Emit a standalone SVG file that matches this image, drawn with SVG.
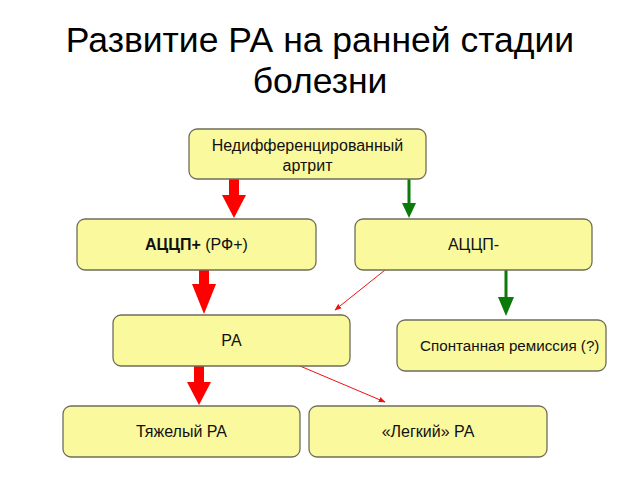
<svg xmlns="http://www.w3.org/2000/svg" width="640" height="480" viewBox="0 0 640 480">
<style>
.t{font-family:"Liberation Sans",Arial,sans-serif;font-size:35.5px;fill:#000;text-anchor:middle}
.b{fill:#FAF99E;stroke:#6E6E5A;stroke-width:1.3}
.l{font-family:"Liberation Sans",Arial,sans-serif;font-size:16px;fill:#111;text-anchor:middle}
.red{fill:#FF0000}
.grn{fill:#0A7A0A}
.thin{stroke:#F01010;stroke-width:1;fill:none;marker-end:url(#ah)}
</style>
<defs>
<marker id="ah" viewBox="0 0 10 10" refX="9" refY="5" markerWidth="7" markerHeight="7" orient="auto" markerUnits="userSpaceOnUse">
<path d="M0,1 L10,5 L0,9 z" fill="#F01010"/>
</marker>
</defs>
<rect width="640" height="480" fill="#fff"/>
<text class="t" x="320" y="52">Развитие РА на ранней стадии</text>
<text class="t" x="320" y="93">болезни</text>

<g id="connectors">
<path class="red" d="M229,179 H239 V195 H246 L234,218 L222,195 H229 Z"/>
<path class="grn" d="M407.5,179 H410.5 V203 H416 L409,218 L402,203 H407.5 Z"/>
<path class="red" d="M199,270 H209 V284 H216 L204,314 L192,284 H199 Z"/>
<path class="grn" d="M504.5,270 H507.5 V297 H514 L506,316 L498,297 H504.5 Z"/>
<path class="red" d="M194,366 H204 V382 H211 L199,405 L187,382 H194 Z"/>
<line class="thin" x1="385" y1="270" x2="335" y2="310"/>
<line class="thin" x1="300" y1="366" x2="385" y2="402"/>
</g>

<g id="n1"><rect class="b" x="189" y="129" width="237" height="50" rx="8"/>
<text class="l" x="307.5" y="151">Недифференцированный</text>
<text class="l" x="307.5" y="171">артрит</text></g>
<g id="n2"><rect class="b" x="77" y="219" width="239" height="51" rx="8"/>
<text class="l" x="196.5" y="250"><tspan font-weight="bold">АЦЦП+</tspan> (РФ+)</text></g>
<g id="n3"><rect class="b" x="355" y="219" width="237" height="51" rx="8"/>
<text class="l" x="473.5" y="250">АЦЦП-</text></g>
<g id="n4"><rect class="b" x="113" y="315" width="237" height="51" rx="8"/>
<text class="l" x="231.5" y="346">РА</text></g>
<g id="n5"><rect class="b" x="397" y="320" width="209" height="51" rx="8"/>
<text class="l" x="420" y="351" style="font-size:15.2px;text-anchor:start">Спонтанная ремиссия (?)</text></g>
<g id="n6"><rect class="b" x="63" y="406" width="237" height="51" rx="8"/>
<text class="l" x="181.5" y="437">Тяжелый РА</text></g>
<g id="n7"><rect class="b" x="309" y="406" width="238" height="51" rx="8"/>
<text class="l" x="428" y="437">«Легкий» РА</text></g>
</svg>
